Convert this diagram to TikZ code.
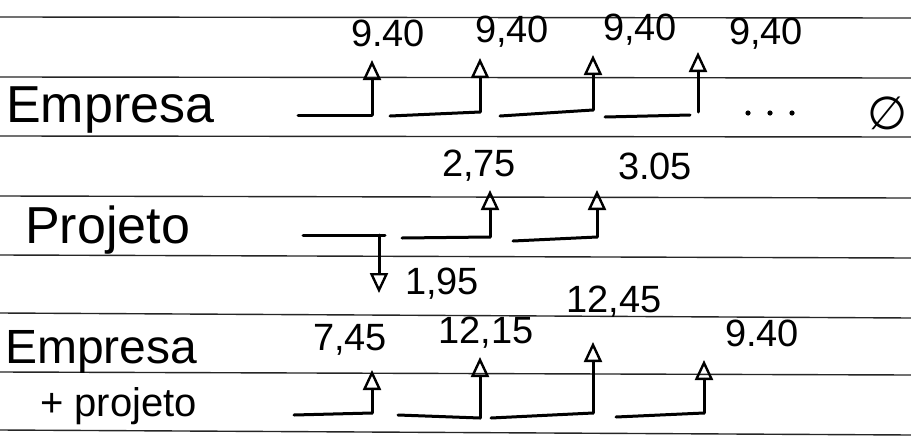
\documentclass[tikz,border=0pt]{standalone}
\usepackage{fontspec}
\setmainfont{Liberation Sans}
\newfontfamily\symfont{DejaVu Sans}
\usetikzlibrary{arrows.meta}
\begin{document}
\begin{tikzpicture}[x=1pt,y=1pt,
  rule/.style={line width=1.4pt, black!85},
  ink/.style={line width=3pt, line cap=round, line join=round},
  cash/.style={ink, -{Triangle[open,length=20pt,width=18pt,line width=2.4pt]}},
  amt/.style={font=\fontsize{38}{38}\selectfont, inner sep=0pt},
  rowlbl/.style={font=\fontsize{52}{52}\selectfont, anchor=base west, inner sep=0pt}]
\useasboundingbox (0,0) rectangle (911,-445);
\fill[white] (0,0) rectangle (911,-445);

% ruled paper lines
\foreach \l/\r in {17/18, 77/78, 136/137, 196/198, 255/258, 313/318, 372/375, 430/435}
  \draw[rule] (0,-\l) -- (911,-\r);

% row titles
\node[rowlbl] (tEmp) at (6,-122) {Empresa};
\node[rowlbl] (tProj) at (25,-243) {Projeto};
\node[rowlbl, font=\fontsize{48}{48}\selectfont] (tSum) at (5,-363) {Empresa};
\node[rowlbl, font=\fontsize{40}{40}\selectfont] (tSum2) at (40,-416) {+ projeto};

% ---- row 1: Empresa ----
\coordinate (a0) at (298,-115);  \coordinate (a1) at (372,-115); \coordinate (a1t) at (372,-60);
\coordinate (b0) at (390,-116);  \coordinate (b1) at (480,-112); \coordinate (b1t) at (480,-58);
\coordinate (c0) at (500,-116);  \coordinate (c1) at (593,-110); \coordinate (c1t) at (593,-55);
\coordinate (d0) at (605,-117);  \coordinate (d1) at (690,-115);
\coordinate (d2) at (698,-112);  \coordinate (d2t) at (698,-52);
\draw[ink] (a0) -- (a1);  \draw[cash] (a1) -- (a1t);
\draw[ink] (b0) -- (b1);  \draw[cash] (b1) -- (b1t);
\draw[ink] (c0) -- (c1);  \draw[cash] (c1) -- (c1t);
\draw[ink] (d0) -- (d1);  \draw[cash] (d2) -- (d2t);
\node[amt] (va1) at (388,-33) {9.40};
\node[amt] (va2) at (512,-32) {9,40};
\node[amt] (va3) at (640,-30) {9,40};
\node[amt] (va4) at (766,-34) {9,40};
\foreach \x in {748,770,792}
  \fill (\x,-113) circle (2.6pt);
\node[font=\symfont\fontsize{46}{46}\selectfont, inner sep=0pt] (nil) at (888,-113) {∅};

% ---- row 2: Projeto ----
\coordinate (p0) at (303,-235);  \coordinate (p1) at (385,-235);
\coordinate (pd) at (379,-235);  \coordinate (pdt) at (379,-293);
\coordinate (q0) at (402,-238);  \coordinate (q1) at (490,-237); \coordinate (q1t) at (490,-190);
\coordinate (r0) at (513,-241);  \coordinate (r1) at (597,-237); \coordinate (r1t) at (597,-190);
\draw[ink] (p0) -- (p1);  \draw[cash] (pd) -- (pdt);
\draw[ink] (q0) -- (q1);  \draw[cash] (q1) -- (q1t);
\draw[ink] (r0) -- (r1);  \draw[cash] (r1) -- (r1t);
\node[amt] (vp1) at (442,-284) {1,95};
\node[amt] (vp2) at (479,-166) {2,75};
\node[amt] (vp3) at (655,-166) {3.05};

% ---- row 3: Empresa + projeto ----
\coordinate (s0) at (294,-415);  \coordinate (s1) at (372,-413); \coordinate (s1t) at (372,-370);
\coordinate (t0) at (398,-415);  \coordinate (t1) at (480,-418); \coordinate (t1t) at (480,-357);
\coordinate (u0) at (491,-418);  \coordinate (u1) at (593,-413); \coordinate (u1t) at (593,-342);
\coordinate (w0) at (616,-417);  \coordinate (w1) at (704,-413); \coordinate (w1t) at (704,-360);
\draw[ink] (s0) -- (s1);  \draw[cash] (s1) -- (s1t);
\draw[ink] (t0) -- (t1);  \draw[cash] (t1) -- (t1t);
\draw[ink] (u0) -- (u1);  \draw[cash] (u1) -- (u1t);
\draw[ink] (w0) -- (w1);  \draw[cash] (w1) -- (w1t);
\node[amt] (vs1) at (350,-340) {7,45};
\node[amt] (vs2) at (486,-333) {12,15};
\node[amt] (vs3) at (614,-302) {12,45};
\node[amt] (vs4) at (762,-333) {9.40};
\end{tikzpicture}
\end{document}
